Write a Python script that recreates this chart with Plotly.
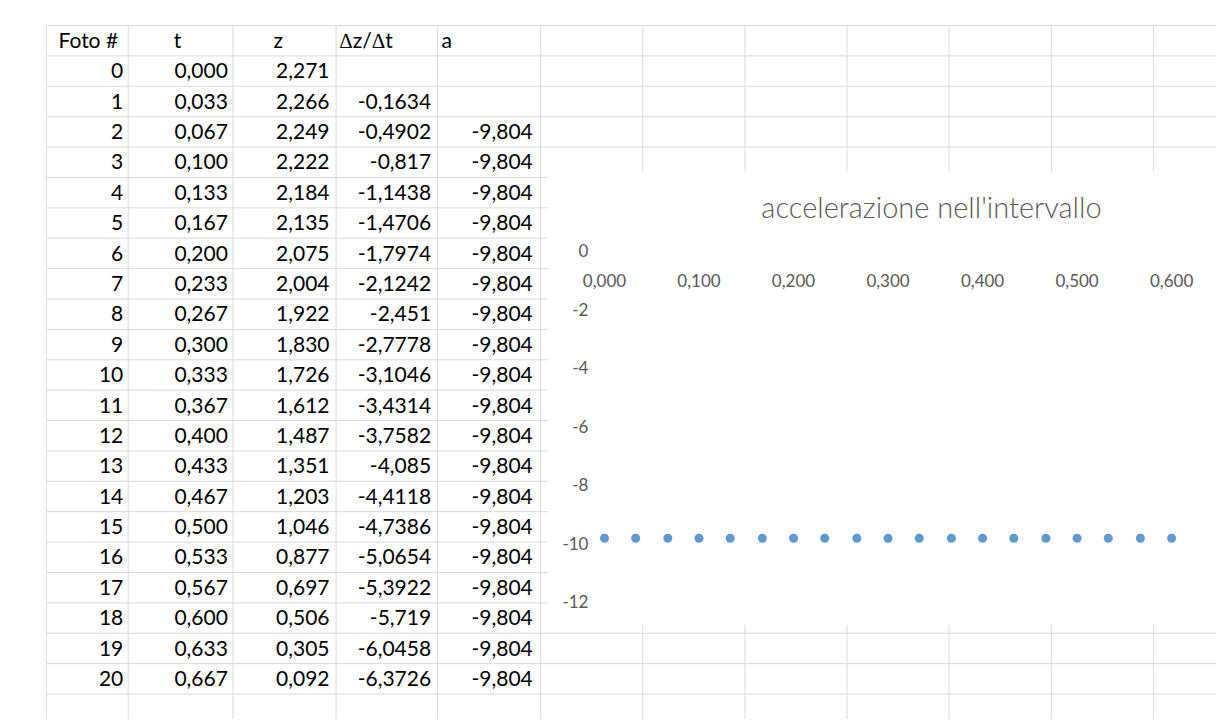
import plotly.graph_objects as go

# ---------------- data ----------------
foto = list(range(21))
t = [0.000, 0.033, 0.067, 0.100, 0.133, 0.167, 0.200, 0.233, 0.267, 0.300, 0.333,
     0.367, 0.400, 0.433, 0.467, 0.500, 0.533, 0.567, 0.600, 0.633, 0.667]
z = [2.271, 2.266, 2.249, 2.222, 2.184, 2.135, 2.075, 2.004, 1.922, 1.830, 1.726,
     1.612, 1.487, 1.351, 1.203, 1.046, 0.877, 0.697, 0.506, 0.305, 0.092]
dzdt = [None, -0.1634, -0.4902, -0.817, -1.1438, -1.4706, -1.7974, -2.1242, -2.451,
        -2.7778, -3.1046, -3.4314, -3.7582, -4.085, -4.4118, -4.7386, -5.0654,
        -5.3922, -5.719, -6.0458, -6.3726]
a = [None, None] + [-9.804] * 19
headers = ["Foto #", "t", "z", "\u0394z/\u0394t", "a"]

# chart series (as plotted in the sheet: x = t of rows 0..18, y = a of rows 2..20)
chart_x = t[0:19]
chart_y = a[2:21]
chart_title = "accelerazione nell'intervallo"
x_tickvals = [0.0, 0.1, 0.2, 0.3, 0.4, 0.5, 0.6]
x_ticktext = ["0,000", "0,100", "0,200", "0,300", "0,400", "0,500", "0,600"]
y_tickvals = [0, -2, -4, -6, -8, -10, -12]
y_ticktext = ["0", "-2", "-4", "-6", "-8", "-10", "-12"]

# ---------------- layout constants (pixels) ----------------
W, H = 1224, 721
grid_top, grid_left = 6.7, 16.7
row_h = 31.3
n_rows = 23
col_edges = [16.7, 100, 206.7, 311.7, 415, 520, 624, 728, 832, 936, 1040, 1144]
text_right = [95, 201.5, 305, 408.5, 512]
head_left = [29, 146.5, 248, 315, 419]
grid_color = "#dadada"
table_font = dict(family="Lato, Carlito, sans-serif", size=21, color="#000000")
tick_font = dict(family="Lato, Carlito, sans-serif", size=17, color="#595959")

chart_box = (527, 157, W, 624)  # left, top, right, bottom
px0, px06 = 585, 1162.5         # pixel of x=0 and x=0.6
py0, pym12 = 239.5, 601         # pixel of y=0 and y=-12
x_label_line = 257              # pixel row where the x tick labels hang from


def fx(px):
    return px / W


def fy(py):
    return 1 - py / H


def fmt3(v):
    return "" if v is None else f"{v:.3f}".replace(".", ",")


def fmtg(v):
    return "" if v is None else repr(v).replace(".", ",")


def head_fmt(s):
    # the Delta glyph in the sheet comes from a serif (Symbol-like) font
    return s.replace("\u0394", '<span style="font-family:Liberation Serif">\u0394</span>')


fig = go.Figure()

# ---- spreadsheet gridlines (paper shapes, below everything) ----
shapes = []
for k in range(n_rows + 1):
    y = grid_top + k * row_h
    if y > H:
        break
    shapes.append(dict(type="line", xref="paper", yref="paper", layer="below",
                       x0=fx(grid_left), x1=1, y0=fy(y), y1=fy(y),
                       line=dict(color=grid_color, width=1)))
for xe in col_edges:
    shapes.append(dict(type="line", xref="paper", yref="paper", layer="below",
                       x0=fx(xe), x1=fx(xe), y0=fy(grid_top), y1=0,
                       line=dict(color=grid_color, width=1)))
# chart area (white, covers the sheet grid)
shapes.append(dict(type="rect", xref="paper", yref="paper", layer="below",
                   x0=fx(chart_box[0]), x1=fx(chart_box[2]),
                   y0=fy(chart_box[3]), y1=fy(chart_box[1]),
                   fillcolor="white", line=dict(width=0)))

# ---- table text (on a hidden pixel-unit axis pair) ----
def row_center(i):  # i = -1 for header
    return grid_top + (i + 1) * row_h + row_h / 2 + 2

fig.add_trace(go.Scatter(
    x=head_left, y=[row_center(-1)] * 5, text=[head_fmt(h) for h in headers],
    mode="text", textposition="middle right", textfont=table_font,
    hoverinfo="skip", xaxis="x2", yaxis="y2", showlegend=False))

columns_txt = [
    [str(f) for f in foto],
    [fmt3(v) for v in t],
    [fmt3(v) for v in z],
    [fmtg(v) for v in dzdt],
    [fmt3(v) for v in a],
]
for c, vals in enumerate(columns_txt):
    fig.add_trace(go.Scatter(
        x=[text_right[c]] * len(vals), y=[row_center(i) for i in range(len(vals))],
        text=vals, mode="text", textposition="middle left", textfont=table_font,
        hoverinfo="skip", xaxis="x2", yaxis="y2", showlegend=False))

# ---- chart ----
fig.add_trace(go.Scatter(
    x=chart_x, y=chart_y, mode="markers", cliponaxis=False,
    marker=dict(color="#5B9BD5", size=9, line=dict(width=0)),
    showlegend=False, hoverinfo="x+y"))

x_per_px = 0.6 / (px06 - px0)
x_end = 0.6 + (W - px06) * x_per_px

fig.update_layout(
    width=W, height=H,
    margin=dict(l=0, r=0, t=0, b=0),
    paper_bgcolor="white", plot_bgcolor="rgba(0,0,0,0)",
    shapes=shapes,
    separators=",.",
    title=dict(text=chart_title, x=918 / W, xanchor="center", y=fy(194.5),
               yanchor="middle", xref="paper", yref="paper",
               font=dict(family="Lato, Carlito, sans-serif", size=29,
                         color="#595959", weight=300)),
    xaxis=dict(domain=[fx(px0), 1], range=[0, x_end], anchor="free",
               position=fy(x_label_line), side="bottom",
               tickvals=x_tickvals, ticktext=x_ticktext,
               showgrid=False, zeroline=False, showline=False, ticks="",
               tickfont=tick_font, fixedrange=True),
    yaxis=dict(domain=[fy(pym12), fy(py0)], range=[-12, 0], anchor="x",
               tickvals=y_tickvals, ticktext=y_ticktext,
               showgrid=False, zeroline=False, showline=False, ticks="",
               ticklabelstandoff=15, tickfont=tick_font, fixedrange=True),
    xaxis2=dict(domain=[0, 1], range=[0, W], anchor="y2", visible=False,
                fixedrange=True),
    yaxis2=dict(domain=[0, 1], range=[H, 0], anchor="x2", visible=False,
                fixedrange=True),
)

fig.write_html("out.html")
